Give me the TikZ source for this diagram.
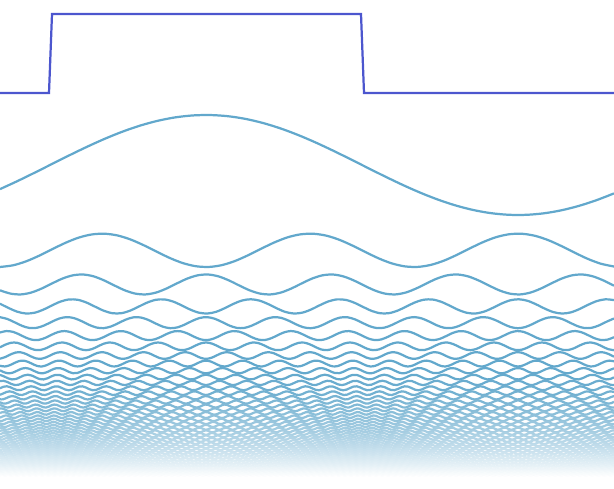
\documentclass[tikz,border=0pt]{standalone}
\usepackage{tikz}
\usepackage{xcolor}
\definecolor{pulseblue}{RGB}{76,86,206}
\definecolor{waveblue}{RGB}{98,168,204}

\begin{document}
\begin{tikzpicture}[
  x=0.03cm, y=-0.03cm,
  pulse/.style={draw=pulseblue, line width=1.9pt, line join=miter},
  harmonic/.style={line width=1.9pt, smooth}
]
\useasboundingbox (0,0) rectangle (614,489);
% square pulse
\draw[pulse] (0,93) -- (49,93) -- (52,14) -- (361,14) -- (364,93) -- (614,93);
% odd harmonics, stacked and fading out
\foreach \n [evaluate=\n as \yc using {\ylast + 64*(1/(\n-2) + 1/\n)},
             remember=\yc as \ylast (initially 165)] in {1,3,...,101}{
  \pgfmathsetmacro\amp{50/\n*(1-2*mod((\n-1)/2,2))}
  \pgfmathtruncatemacro\ns{6*\n+30}
  \pgfmathsetmacro\tf{max(0,min(1,(\yc-370)/108))}
  \pgfmathtruncatemacro\pct{100*(1-\tf*sqrt(\tf))}
  \draw[harmonic, draw=waveblue!\pct!white]
    plot[domain=0:614, samples=\ns] (\x, {\yc - \amp*cos(360*mod((\x-206)/624*\n,1))});
}
\end{tikzpicture}
\end{document}
